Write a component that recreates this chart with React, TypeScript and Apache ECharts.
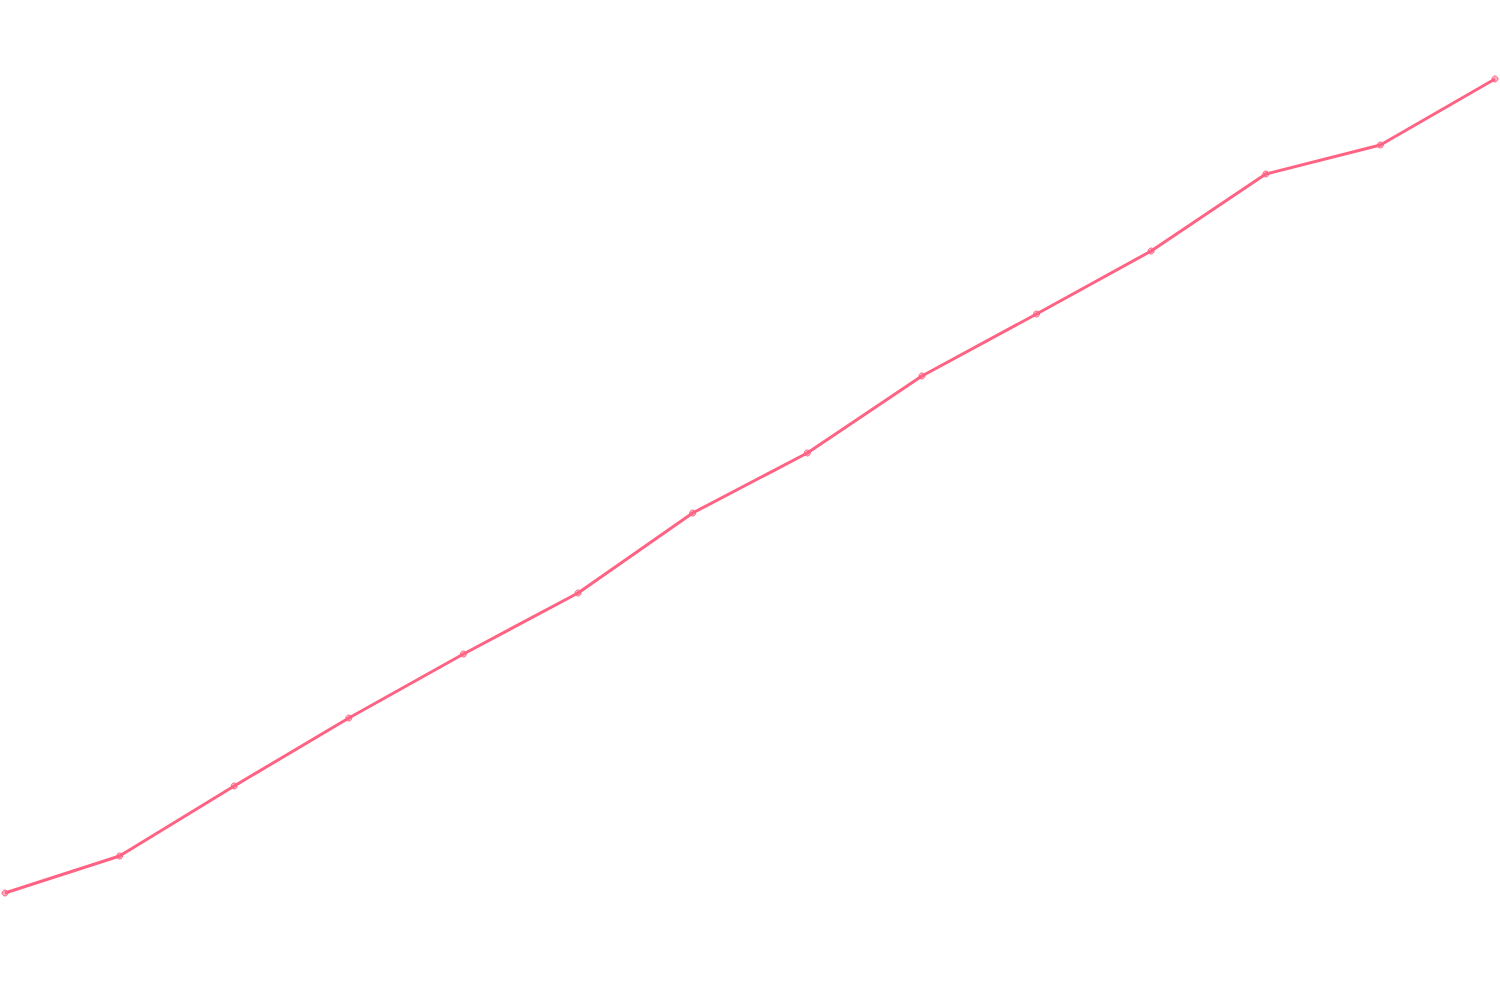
import React, { useEffect, useRef } from "react";
import * as echarts from "echarts";

const categories = ["1", "2", "3", "4", "5", "6", "7", "8", "9", "10", "11", "12", "13", "14"];
const values = [107, 144, 214, 282, 346, 407, 487, 547, 624, 686, 749, 826, 855, 921];

const App: React.FC = () => {
  const chartRef = useRef<HTMLDivElement>(null);

  useEffect(() => {
    document.body.style.margin = "0";
    if (!chartRef.current) return;
    const chart = echarts.init(chartRef.current, undefined, { renderer: "svg" });

    chart.setOption({
      animation: false,
      grid: { left: 5, right: 5, top: 0, bottom: 0 },
      xAxis: {
        type: "category",
        data: categories,
        boundaryGap: false,
        show: false,
      },
      yAxis: {
        type: "value",
        min: 0,
        max: 1000,
        show: false,
      },
      series: [
        {
          type: "line",
          data: values,
          symbol: "circle",
          symbolSize: 6,
          lineStyle: { color: "rgb(255,99,132)", width: 3 },
          itemStyle: {
            color: "rgba(255,99,132,0.5)",
            borderColor: "rgb(255,99,132)",
            borderWidth: 1,
          },
        },
      ],
    });

    return () => {
      chart.dispose();
    };
  }, []);

  return <div ref={chartRef} style={{ width: "1500px", height: "1000px" }} />;
};

export default App;
